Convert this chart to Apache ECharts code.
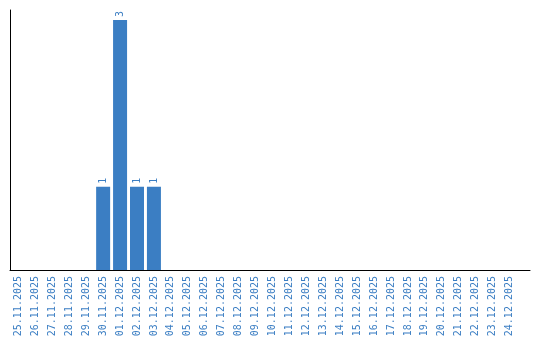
<!DOCTYPE html>
<html><head><meta charset="utf-8">
<script src="https://cdn.jsdelivr.net/npm/echarts@6/dist/echarts.min.js"></script>
<style>html,body{margin:0;padding:0;background:#fff}#c{width:540px;height:340px}</style>
</head><body><div id="c"></div>
<script>
const categories = ["25.11.2025","26.11.2025","27.11.2025","28.11.2025","29.11.2025","30.11.2025","01.12.2025","02.12.2025","03.12.2025","04.12.2025","05.12.2025","06.12.2025","07.12.2025","08.12.2025","09.12.2025","10.12.2025","11.12.2025","12.12.2025","13.12.2025","14.12.2025","15.12.2025","16.12.2025","17.12.2025","18.12.2025","19.12.2025","20.12.2025","21.12.2025","22.12.2025","23.12.2025","24.12.2025"];
const values = [0,0,0,0,0,1,3,1,1,0,0,0,0,0,0,0,0,0,0,0,0,0,0,0,0,0,0,0,0,0];
const yMax = 3.12;
const blue = '#3b7ec3';
const font = 'DejaVu Sans Mono';
const chart = echarts.init(document.getElementById('c'), null, {renderer:'canvas'});
chart.setOption({
  animation:false,
  grid:[{left:10, width:508, top:10, bottom:70},{left:10, width:520, top:10, bottom:70}],
  xAxis:[{
    type:'category', gridIndex:0, data:categories,
    axisLine:{show:false}, axisTick:{show:false},
    axisLabel:{rotate:90, interval:0, margin:6, color:blue, fontFamily:font, fontSize:10}
  },{
    type:'value', gridIndex:1, min:0, max:1,
    axisLine:{show:true, lineStyle:{color:'#000', width:1}}, axisTick:{show:false}, axisLabel:{show:false}, splitLine:{show:false}
  }],
  yAxis:[{
    type:'value', gridIndex:0, min:0, max:yMax,
    axisLine:{show:true, lineStyle:{color:'#000', width:1}}, axisTick:{show:false}, axisLabel:{show:false}, splitLine:{show:false}
  },{
    type:'value', gridIndex:1, min:0, max:1, show:false
  }],
  series:[{
    type:'bar', xAxisIndex:0, yAxisIndex:0, data:values.map(v=>v===0?null:v), barWidth:14,
    itemStyle:{color:blue},
    label:{show:true, position:'top', rotate:90, align:'left', verticalAlign:'middle', distance:3, color:blue, fontFamily:font, fontSize:10}
  }]
});
</script></body></html>
